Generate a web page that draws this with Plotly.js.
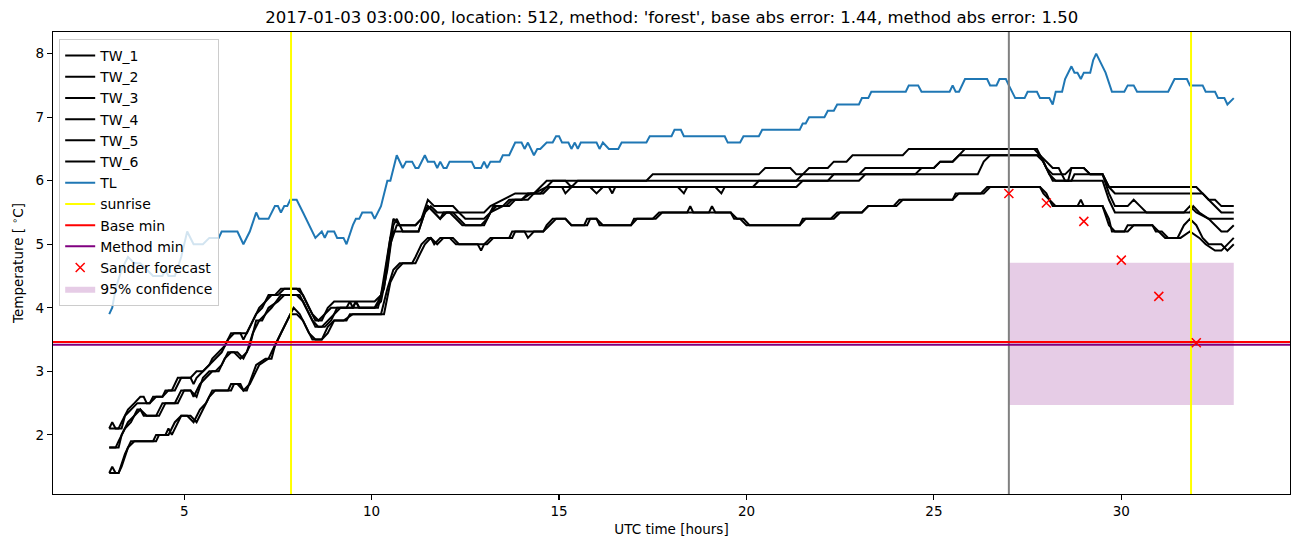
<!DOCTYPE html>
<html>
<head>
<meta charset="utf-8">
<script src="https://cdn.plot.ly/plotly-3.0.1.min.js"></script>
<style>html,body{margin:0;padding:0;background:#fff;}#chart{width:1302px;height:547px;}</style>
</head>
<body>
<div id="chart"></div>
<script>
// ---- data (time in UTC hours, temperature in °C) ----
const tw1 = [[3.00,2.1],[3.08,2.2],[3.17,2.1],[3.25,2.1],[3.33,2.2],[3.50,2.4],[3.67,2.5],[3.83,2.6],[3.92,2.6],[4.00,2.5],[4.08,2.5],[4.17,2.6],[4.42,2.6],[4.50,2.7],[4.67,2.7],[4.83,2.9],[5.17,2.9],[5.25,2.8],[5.33,2.9],[5.50,3.0],[5.67,3.1],[5.83,3.2],[6.00,3.3],[6.17,3.5],[6.33,3.6],[6.67,3.6],[6.83,3.8],[7.00,4.0],[7.17,4.1],[7.33,4.2],[7.50,4.2],[7.67,4.3],[8.00,4.3],[8.17,4.2],[8.33,4.0],[8.50,3.8],[8.67,3.8],[8.83,4.0],[9.00,4.1],[10.08,4.1],[10.25,4.2],[10.42,4.8],[10.58,5.4],[10.75,5.3],[11.17,5.3],[11.33,5.4],[11.50,5.7],[11.67,5.6],[12.17,5.6],[12.33,5.5],[13.00,5.5],[13.17,5.6],[13.50,5.7],[13.83,5.8],[14.33,5.8],[14.50,5.9],[14.67,6.0],[17.33,6.0],[17.50,6.1],[20.33,6.1],[20.50,6.2],[21.17,6.2],[21.33,6.1],[21.50,6.1],[21.67,6.2],[22.17,6.2],[22.33,6.3],[22.67,6.3],[22.83,6.4],[24.17,6.4],[24.33,6.5],[27.67,6.5],[27.83,6.4],[28.00,6.2],[28.17,6.1],[28.50,6.1],[28.67,6.2],[29.00,6.2],[29.17,6.1],[29.50,6.1],[29.67,5.9],[32.00,5.9],[32.17,5.8],[32.33,5.7],[32.50,5.7],[32.67,5.6],[33.00,5.6]];
const tw2 = [[3.00,2.1],[3.33,2.1],[3.42,2.3],[3.58,2.4],[3.75,2.5],[4.08,2.5],[4.25,2.6],[4.42,2.6],[4.58,2.7],[4.75,2.7],[4.92,2.9],[5.17,2.9],[5.33,3.0],[5.50,3.0],[5.67,3.1],[5.75,3.2],[5.92,3.3],[6.08,3.4],[6.25,3.6],[6.50,3.6],[6.58,3.5],[6.75,3.7],[6.92,3.9],[7.08,4.0],[7.25,4.2],[7.42,4.2],[7.58,4.3],[8.08,4.3],[8.25,4.1],[8.42,3.9],[8.58,3.8],[8.75,3.9],[8.92,4.0],[9.50,4.0],[9.58,4.1],[9.67,4.0],[10.08,4.0],[10.25,4.1],[10.42,4.6],[10.58,5.3],[10.67,5.4],[10.83,5.2],[11.25,5.2],[11.42,5.5],[11.50,5.6],[11.67,5.5],[11.83,5.4],[12.00,5.5],[12.33,5.5],[12.50,5.4],[13.00,5.4],[13.17,5.5],[13.33,5.6],[13.50,5.6],[13.67,5.7],[14.00,5.7],[14.17,5.8],[14.50,5.8],[14.67,5.9],[14.83,6.0],[15.17,6.0],[15.33,5.9],[15.50,6.0],[21.33,6.0],[21.50,6.1],[23.00,6.1],[23.17,6.2],[25.00,6.2],[25.17,6.3],[25.50,6.3],[25.67,6.4],[25.83,6.5],[27.75,6.5],[27.92,6.3],[28.08,6.1],[28.17,6.0],[28.67,6.0],[28.75,6.1],[29.50,6.1],[29.67,5.9],[29.83,5.8],[32.17,5.8],[32.33,5.7],[32.50,5.6],[32.67,5.5],[33.00,5.5]];
const tw3 = [[3.00,1.8],[3.25,1.8],[3.33,2.0],[3.42,2.1],[3.50,2.2],[3.67,2.3],[3.83,2.4],[3.92,2.3],[4.25,2.3],[4.42,2.5],[4.75,2.5],[4.92,2.7],[5.17,2.7],[5.25,2.6],[5.42,2.8],[5.58,2.9],[5.75,3.0],[5.92,3.0],[6.08,3.2],[6.25,3.3],[6.42,3.3],[6.58,3.2],[6.75,3.4],[6.92,3.8],[7.08,3.8],[7.25,4.0],[7.50,4.1],[7.67,4.2],[8.00,4.2],[8.17,4.1],[8.33,3.9],[8.50,3.7],[8.67,3.7],[8.83,3.8],[9.00,3.9],[9.17,4.0],[9.50,4.0],[9.58,4.1],[9.67,4.0],[10.08,4.0],[10.17,4.1],[10.33,4.3],[10.50,5.0],[10.67,5.3],[11.17,5.3],[11.33,5.4],[11.50,5.6],[11.67,5.5],[11.83,5.4],[11.92,5.5],[12.17,5.5],[12.33,5.4],[12.50,5.3],[13.00,5.3],[13.17,5.5],[13.50,5.6],[13.67,5.6],[13.83,5.7],[14.17,5.7],[14.33,5.8],[14.67,5.9],[15.83,5.9],[16.00,5.8],[16.17,5.9],[21.33,5.9],[21.50,6.0],[22.17,6.0],[22.33,6.1],[24.50,6.1],[24.67,6.2],[25.00,6.2],[25.17,6.3],[25.50,6.3],[25.67,6.4],[27.75,6.4],[27.92,6.3],[28.08,6.1],[28.25,6.0],[28.58,6.0],[28.67,6.2],[29.00,6.2],[29.17,6.1],[29.50,6.1],[29.67,5.8],[29.83,5.6],[30.17,5.6],[30.33,5.7],[30.50,5.6],[30.67,5.5],[31.67,5.5],[31.83,5.6],[32.00,5.5],[32.33,5.4],[33.00,5.4]];
const tw4 = [[3.00,1.8],[3.17,1.8],[3.25,1.9],[3.42,2.1],[3.58,2.2],[3.75,2.4],[3.83,2.4],[4.00,2.3],[4.33,2.3],[4.50,2.5],[4.83,2.5],[5.00,2.7],[5.17,2.7],[5.33,2.6],[5.50,2.9],[5.67,3.0],[5.83,3.0],[6.00,3.1],[6.17,3.3],[6.33,3.3],[6.50,3.2],[6.67,3.3],[6.83,3.6],[7.00,3.8],[7.17,3.9],[7.33,4.0],[7.58,4.2],[8.08,4.2],[8.25,4.0],[8.42,3.8],[8.58,3.7],[8.75,3.7],[8.92,3.8],[9.08,4.0],[9.33,4.0],[9.42,4.1],[9.50,4.0],[10.17,4.0],[10.33,4.4],[10.50,5.1],[10.58,5.2],[11.25,5.2],[11.42,5.5],[11.58,5.6],[11.75,5.5],[12.08,5.5],[12.25,5.4],[12.42,5.3],[12.92,5.3],[13.08,5.4],[13.25,5.6],[13.58,5.6],[13.75,5.7],[14.00,5.7],[14.25,5.8],[14.58,5.8],[14.75,5.9],[15.08,5.9],[15.17,5.8],[15.33,5.9],[16.33,5.9],[16.42,5.8],[16.50,5.9],[18.17,5.9],[18.33,5.8],[18.42,5.9],[19.17,5.9],[19.33,5.8],[19.42,5.9],[20.17,5.9],[20.33,6.0],[23.00,6.0],[23.17,6.1],[26.17,6.1],[26.33,6.3],[26.50,6.4],[27.83,6.4],[28.00,6.3],[28.17,6.2],[28.33,6.2],[28.50,6.0],[29.50,6.0],[29.67,5.7],[29.83,5.5],[31.83,5.5],[31.92,5.6],[32.08,5.5],[32.33,5.4],[32.50,5.3],[32.67,5.2],[32.83,5.2],[33.00,5.3]];
const tw5 = [[3.00,1.4],[3.08,1.5],[3.17,1.4],[3.25,1.4],[3.42,1.7],[3.58,1.9],[4.25,1.9],[4.33,2.0],[4.50,2.0],[4.58,2.1],[4.67,2.0],[4.83,2.2],[4.92,2.3],[5.17,2.3],[5.33,2.2],[5.50,2.4],[5.67,2.6],[5.83,2.7],[6.25,2.7],[6.33,2.8],[6.50,2.8],[6.58,2.7],[6.75,2.8],[7.00,3.1],[7.25,3.2],[7.33,3.3],[7.50,3.5],[7.75,3.8],[7.92,4.0],[8.08,3.9],[8.25,3.7],[8.42,3.5],[8.67,3.5],[8.83,3.7],[9.00,3.8],[9.33,3.8],[9.42,3.9],[10.25,3.9],[10.42,4.3],[10.58,4.6],[10.75,4.7],[11.08,4.7],[11.17,4.8],[11.33,5.0],[11.50,5.1],[11.58,5.1],[11.67,5.0],[11.83,5.1],[12.08,5.1],[12.25,5.0],[12.83,5.0],[12.92,4.9],[13.00,5.0],[13.17,5.1],[13.67,5.1],[13.75,5.2],[14.08,5.2],[14.17,5.1],[14.33,5.2],[14.58,5.2],[14.67,5.3],[14.83,5.4],[15.17,5.4],[15.33,5.3],[15.67,5.3],[15.75,5.4],[16.00,5.4],[16.08,5.3],[16.92,5.3],[17.00,5.4],[17.50,5.4],[17.67,5.5],[18.42,5.5],[18.50,5.6],[18.58,5.5],[19.00,5.5],[19.08,5.6],[19.17,5.5],[19.58,5.5],[19.67,5.4],[19.83,5.4],[20.00,5.3],[21.42,5.3],[21.50,5.4],[22.25,5.4],[22.42,5.5],[23.08,5.5],[23.25,5.6],[24.00,5.6],[24.17,5.7],[25.50,5.7],[25.67,5.8],[26.25,5.8],[26.42,5.9],[27.83,5.9],[28.00,5.8],[28.08,5.7],[28.25,5.6],[28.83,5.6],[28.92,5.7],[29.00,5.6],[29.50,5.6],[29.67,5.4],[29.75,5.2],[30.08,5.2],[30.17,5.3],[30.83,5.3],[31.00,5.2],[31.17,5.1],[31.50,5.1],[31.67,5.3],[31.83,5.4],[32.00,5.3],[32.17,5.1],[32.33,5.0],[32.67,5.0],[32.83,4.9],[33.00,5.0]];
const tw6 = [[3.00,1.4],[3.25,1.4],[3.33,1.5],[3.50,1.8],[3.67,1.9],[4.17,1.9],[4.25,2.0],[4.42,2.0],[4.58,2.0],[4.75,2.2],[4.92,2.3],[5.08,2.3],[5.25,2.2],[5.42,2.4],[5.58,2.5],[5.75,2.7],[6.17,2.7],[6.25,2.8],[6.42,2.8],[6.58,2.7],[6.67,2.7],[6.92,3.1],[7.17,3.2],[7.33,3.2],[7.42,3.4],[7.58,3.6],[7.83,3.9],[8.00,3.9],[8.17,3.8],[8.33,3.6],[8.50,3.5],[8.67,3.5],[8.83,3.6],[9.00,3.8],[9.25,3.8],[9.50,3.9],[10.33,3.9],[10.50,4.4],[10.67,4.6],[10.83,4.7],[11.17,4.7],[11.25,4.8],[11.42,5.0],[11.58,5.1],[11.75,5.0],[11.92,5.1],[12.17,5.1],[12.33,5.0],[13.08,5.0],[13.25,5.1],[13.75,5.1],[13.83,5.2],[14.58,5.2],[14.75,5.3],[14.92,5.4],[15.17,5.4],[15.33,5.3],[15.75,5.3],[15.83,5.4],[16.00,5.4],[16.17,5.3],[16.92,5.3],[17.08,5.4],[17.58,5.4],[17.75,5.5],[19.58,5.5],[19.75,5.4],[19.92,5.4],[20.08,5.3],[21.42,5.3],[21.58,5.4],[22.33,5.4],[22.50,5.5],[23.08,5.5],[23.25,5.6],[23.92,5.6],[24.08,5.7],[25.50,5.7],[25.58,5.8],[26.33,5.8],[26.50,5.9],[27.83,5.9],[27.92,5.8],[28.08,5.7],[28.17,5.6],[29.50,5.6],[29.67,5.3],[29.83,5.2],[30.17,5.2],[30.33,5.3],[30.83,5.3],[30.92,5.2],[31.08,5.2],[31.25,5.1],[31.58,5.1],[31.83,5.2],[32.08,5.1],[32.25,5.0],[32.50,4.9],[32.67,4.9],[32.83,5.0],[33.00,5.1]];
const tl = [[3.00,3.9],[3.08,4.0],[3.17,4.3],[3.33,4.6],[3.50,4.8],[3.67,4.7],[3.83,4.7],[4.00,4.6],[4.17,4.5],[4.42,4.5],[4.50,4.6],[4.58,4.5],[4.75,4.5],[4.92,4.8],[5.08,5.2],[5.25,5.0],[5.50,5.0],[5.67,5.1],[5.92,5.1],[6.00,5.2],[6.42,5.2],[6.58,5.0],[6.75,5.2],[6.92,5.5],[7.00,5.4],[7.25,5.4],[7.42,5.6],[7.50,5.6],[7.58,5.5],[7.67,5.6],[7.75,5.6],[7.83,5.7],[8.00,5.7],[8.17,5.5],[8.33,5.3],[8.50,5.1],[8.67,5.2],[8.75,5.1],[8.83,5.2],[9.00,5.2],[9.08,5.1],[9.25,5.1],[9.33,5.0],[9.50,5.3],[9.58,5.4],[9.67,5.4],[9.75,5.5],[10.00,5.5],[10.08,5.4],[10.25,5.6],[10.42,6.0],[10.50,6.0],[10.67,6.4],[10.83,6.2],[10.92,6.3],[11.08,6.3],[11.17,6.2],[11.25,6.2],[11.42,6.4],[11.50,6.3],[11.67,6.3],[11.75,6.2],[11.83,6.3],[11.92,6.2],[12.00,6.2],[12.08,6.3],[12.67,6.3],[12.75,6.2],[12.92,6.2],[13.00,6.3],[13.08,6.2],[13.17,6.3],[13.42,6.3],[13.50,6.4],[13.67,6.4],[13.75,6.5],[13.83,6.6],[14.00,6.6],[14.08,6.5],[14.17,6.6],[14.33,6.4],[14.42,6.5],[14.50,6.5],[14.67,6.6],[14.83,6.6],[14.92,6.7],[15.00,6.7],[15.08,6.6],[15.25,6.6],[15.33,6.5],[15.42,6.6],[15.50,6.5],[15.58,6.6],[16.00,6.6],[16.08,6.5],[16.17,6.6],[16.33,6.5],[16.58,6.5],[16.67,6.6],[17.33,6.6],[17.42,6.7],[18.00,6.7],[18.08,6.8],[18.25,6.8],[18.33,6.7],[19.42,6.7],[19.50,6.6],[19.83,6.6],[19.92,6.7],[20.33,6.7],[20.42,6.8],[21.42,6.8],[21.50,6.9],[21.58,6.9],[21.67,7.0],[22.08,7.0],[22.17,7.1],[22.33,7.1],[22.42,7.2],[23.00,7.2],[23.08,7.3],[23.25,7.3],[23.33,7.4],[24.25,7.4],[24.33,7.5],[24.58,7.5],[24.67,7.4],[25.42,7.4],[25.50,7.5],[25.58,7.4],[25.67,7.4],[25.83,7.6],[26.42,7.6],[26.50,7.5],[26.67,7.5],[26.75,7.6],[26.92,7.6],[27.00,7.5],[27.08,7.4],[27.17,7.3],[27.42,7.3],[27.50,7.4],[27.75,7.4],[27.83,7.3],[28.08,7.3],[28.17,7.2],[28.25,7.4],[28.42,7.4],[28.50,7.6],[28.67,7.8],[28.75,7.7],[28.83,7.7],[28.92,7.6],[29.00,7.7],[29.17,7.7],[29.25,7.9],[29.33,8.0],[29.42,7.9],[29.58,7.7],[29.75,7.4],[30.08,7.4],[30.17,7.5],[30.33,7.5],[30.42,7.4],[31.25,7.4],[31.42,7.6],[31.75,7.6],[31.83,7.5],[32.17,7.5],[32.25,7.4],[32.50,7.4],[32.58,7.3],[32.75,7.3],[32.83,7.2],[33.00,7.3]];
const sunrise = [7.85, 31.86];
const forecastStart = 27.0;
const baseMin = 3.46;
const methodMin = 3.42;
const sanderHours = [27, 28, 29, 30, 31, 32];
const sanderTemps = [5.80, 5.65, 5.36, 4.75, 4.18, 3.45];
const confHours = [27.0, 33.0];
const confLow = 2.47;
const confHigh = 4.71;
const xRange = [1.5, 34.5];
const yRange = [1.07, 8.34];
const xTicks = [5, 10, 15, 20, 25, 30];
const yTicks = [2, 3, 4, 5, 6, 7, 8];

// ---- traces ----
const FONT = 'DejaVu Sans, Liberation Sans, sans-serif';
const LW = 2;
const twSeries = [tw1, tw2, tw3, tw4, tw5, tw6];
const traces = [];

// confidence band (drawn first, listed last in legend)
traces.push({
  x: [confHours[0], confHours[1], confHours[1], confHours[0], confHours[0]],
  y: [confLow, confLow, confHigh, confHigh, confLow],
  fill: 'toself', fillcolor: 'rgba(128,0,128,0.2)', mode: 'lines',
  line: {width: 0, color: 'rgba(128,0,128,0)'}, name: '95% confidence',
  legendrank: 2000, legendgroup: 'g12', hoverinfo: 'skip'
});

twSeries.forEach((s, i) => {
  traces.push({
    x: s.map(p => p[0]), y: s.map(p => p[1]), mode: 'lines',
    line: {color: '#000000', width: LW}, name: 'TW_' + (i + 1),
    legendrank: 100 + i, legendgroup: 'g' + i
  });
});
traces.push({
  x: tl.map(p => p[0]), y: tl.map(p => p[1]), mode: 'lines',
  line: {color: '#1f77b4', width: LW}, name: 'TL', legendrank: 200, legendgroup: 'g6'
});
// sunrise vertical lines
const sx = [], sy = [];
sunrise.forEach((h, i) => { if (i) { sx.push(null); sy.push(null); } sx.push(h, h); sy.push(yRange[0], yRange[1]); });
traces.push({x: sx, y: sy, mode: 'lines', line: {color: '#ffff00', width: LW}, name: 'sunrise', legendrank: 300, legendgroup: 'g7'});
// forecast-start line (no legend)
traces.push({x: [forecastStart, forecastStart], y: yRange, mode: 'lines', line: {color: '#808080', width: LW}, showlegend: false, hoverinfo: 'skip'});
traces.push({x: xRange, y: [baseMin, baseMin], mode: 'lines', line: {color: '#ff0000', width: LW}, name: 'Base min', legendrank: 400, legendgroup: 'g9'});
traces.push({x: xRange, y: [methodMin, methodMin], mode: 'lines', line: {color: '#800080', width: LW}, name: 'Method min', legendrank: 500, legendgroup: 'g10'});
traces.push({x: sanderHours, y: sanderTemps, mode: 'markers', marker: {symbol: 'x-thin', size: 9, line: {color: '#ff0000', width: 1.5}, color: '#ff0000'}, name: 'Sander forecast', legendrank: 600, legendgroup: 'g11'});

const axisCommon = {
  showgrid: false, zeroline: false, showline: true, linecolor: '#000', linewidth: 1.1,
  mirror: true, ticks: 'outside', ticklen: 5, tickwidth: 1.1, tickcolor: '#000',
  tickfont: {family: FONT, size: 13.5, color: '#000'}
};

const layout = {
  width: 1302, height: 547,
  margin: {l: 53, r: 12, t: 32, b: 53},
  paper_bgcolor: '#fff', plot_bgcolor: '#fff',
  font: {family: FONT, color: '#000'},
  title: {text: "2017-01-03 03:00:00, location: 512, method: 'forest', base abs error: 1.44, method abs error: 1.50",
          font: {family: FONT, size: 16.5, color: '#000'}, x: 0.5159, xanchor: 'center', y: 0.968, yanchor: 'middle'},
  xaxis: Object.assign({}, axisCommon, {range: xRange, tickvals: xTicks, ticktext: xTicks.map(String),
          title: {text: 'UTC time [hours]', font: {family: FONT, size: 13.5}, standoff: 6}}),
  yaxis: Object.assign({}, axisCommon, {range: yRange, tickvals: yTicks, ticktext: yTicks.map(String),
          title: {text: 'Temperature [ <sup>∘</sup>C]', font: {family: FONT, size: 13.5}, standoff: 8}}),
  showlegend: true,
  legend: {x: 0.005, y: 0.985, xanchor: 'left', yanchor: 'top', bgcolor: 'rgba(255,255,255,0.8)',
           bordercolor: '#cccccc', borderwidth: 1, font: {family: FONT, size: 14, color: '#000'},
           traceorder: 'grouped', tracegroupgap: 0, itemwidth: 30}
};

Plotly.newPlot('chart', traces, layout, {displayModeBar: false, staticPlot: true});
</script>
</body>
</html>
